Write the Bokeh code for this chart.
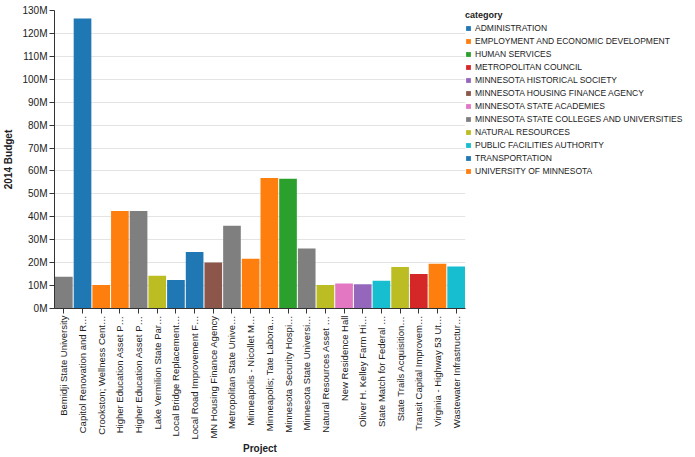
from bokeh.plotting import figure
from bokeh.models import ColumnDataSource, Range1d, Legend, LegendItem, FixedTicker
from bokeh.embed import file_html
from bokeh.resources import INLINE
import math

projects = [
    "Bemidji State University",
    "Capitol Renovation and R…",
    "Crookston; Wellness Cent…",
    "Higher Education Asset P…",
    "Higher Education Asset P…",
    "Lake Vermilion State Par…",
    "Local Bridge Replacement…",
    "Local Road Improvement F…",
    "MN Housing Finance Agency",
    "Metropolitan State Unive…",
    "Minneapolis - Nicollet M…",
    "Minneapolis; Tate Labora…",
    "Minnesota Security Hospi…",
    "Minnesota State Universi…",
    "Natural Resources Asset …",
    "New Residence Hall",
    "Oliver H. Kelley Farm Hi…",
    "State Match for Federal …",
    "State Trails Acquisition…",
    "Transit Capital Improvem…",
    "Virginia - Highway 53 Ut…",
    "Wastewater Infrastructur…",
]
budget_m = [13.8, 126.5, 10.2, 42.5, 42.5, 14.3, 12.4, 24.6, 20.1, 36.1, 21.7,
            56.9, 56.6, 26.2, 10.2, 10.9, 10.6, 12.1, 18.1, 15.0, 19.5, 18.3]
project_category = [
    "MINNESOTA STATE COLLEGES AND UNIVERSITIES",
    "ADMINISTRATION",
    "UNIVERSITY OF MINNESOTA",
    "UNIVERSITY OF MINNESOTA",
    "MINNESOTA STATE COLLEGES AND UNIVERSITIES",
    "NATURAL RESOURCES",
    "TRANSPORTATION",
    "TRANSPORTATION",
    "MINNESOTA HOUSING FINANCE AGENCY",
    "MINNESOTA STATE COLLEGES AND UNIVERSITIES",
    "EMPLOYMENT AND ECONOMIC DEVELOPMENT",
    "UNIVERSITY OF MINNESOTA",
    "HUMAN SERVICES",
    "MINNESOTA STATE COLLEGES AND UNIVERSITIES",
    "NATURAL RESOURCES",
    "MINNESOTA STATE ACADEMIES",
    "MINNESOTA HISTORICAL SOCIETY",
    "PUBLIC FACILITIES AUTHORITY",
    "NATURAL RESOURCES",
    "METROPOLITAN COUNCIL",
    "EMPLOYMENT AND ECONOMIC DEVELOPMENT",
    "PUBLIC FACILITIES AUTHORITY",
]
categories = [
    "ADMINISTRATION",
    "EMPLOYMENT AND ECONOMIC DEVELOPMENT",
    "HUMAN SERVICES",
    "METROPOLITAN COUNCIL",
    "MINNESOTA HISTORICAL SOCIETY",
    "MINNESOTA HOUSING FINANCE AGENCY",
    "MINNESOTA STATE ACADEMIES",
    "MINNESOTA STATE COLLEGES AND UNIVERSITIES",
    "NATURAL RESOURCES",
    "PUBLIC FACILITIES AUTHORITY",
    "TRANSPORTATION",
    "UNIVERSITY OF MINNESOTA",
]
palette = ["#1f77b4", "#ff7f0e", "#2ca02c", "#d62728", "#9467bd", "#8c564b",
           "#e377c2", "#7f7f7f", "#bcbd22", "#17becf", "#1f77b4", "#ff7f0e"]
y_ticks = [i * 10_000_000 for i in range(14)]

FONT = "Liberation Sans"
positions = list(range(len(projects)))

p = figure(frame_width=411, frame_height=298, output_backend="svg",
           toolbar_location=None,
           x_range=Range1d(-0.5, len(projects) - 0.5),
           y_range=Range1d(0, 130_000_000),
           min_border_left=44, min_border_top=10, min_border_bottom=2,
           min_border_right=4)
p.outline_line_color = None

items = []
for cat, col in zip(categories, palette):
    idx = [i for i, c in enumerate(project_category) if c == cat]
    src = ColumnDataSource(dict(
        pos=[positions[i] for i in idx],
        budget=[budget_m[i] * 1_000_000 for i in idx],
    ))
    r = p.vbar(x="pos", top="budget", width=0.945, source=src,
               fill_color=col, line_color=None)
    items.append(LegendItem(label=cat, renderers=[r]))

legend = Legend(items=items, title="category", location="top_left",
                orientation="vertical")
legend.title_text_font = FONT
legend.title_text_font_style = "bold"
legend.title_text_font_size = "9px"
legend.title_text_color = "#222"
legend.title_standoff = 2
legend.label_text_font = FONT
legend.label_text_font_size = "8.5px"
legend.label_text_color = "#222"
legend.glyph_width = 6
legend.glyph_height = 6
legend.label_height = 11
legend.label_standoff = 4
legend.spacing = 2
legend.padding = 0
legend.margin = 0
legend.border_line_color = None
legend.background_fill_alpha = 0
p.add_layout(legend, "right")

# y axis
yax = p.yaxis[0]
yax.ticker = FixedTicker(ticks=y_ticks)
yax.major_label_overrides = {t: f"{t // 1_000_000}M" for t in y_ticks}
yax.axis_label = "2014 Budget"
yax.axis_label_text_font = FONT
yax.axis_label_text_font_style = "bold"
yax.axis_label_text_font_size = "10px"
yax.axis_label_text_color = "#222"
yax.major_label_text_font = FONT
yax.major_label_text_font_size = "10px"
yax.major_label_text_color = "#222"
yax.axis_line_color = "#333"
yax.major_tick_line_color = "#333"
yax.major_tick_out = 5
yax.major_tick_in = 0
yax.minor_tick_line_color = None
yax.major_label_standoff = 2

# x axis
xax = p.xaxis[0]
xax.ticker = FixedTicker(ticks=positions)
xax.major_label_overrides = {i: lb for i, lb in zip(positions, projects)}
xax.major_label_orientation = math.pi / 2
xax.axis_label = "Project"
xax.axis_label_text_font = FONT
xax.axis_label_text_font_style = "bold"
xax.axis_label_text_font_size = "10px"
xax.axis_label_text_color = "#222"
xax.major_label_text_font = FONT
xax.major_label_text_font_size = "9.5px"
xax.major_label_text_color = "#222"
xax.axis_line_color = "#333"
xax.major_tick_line_color = "#333"
xax.major_tick_out = 5
xax.major_tick_in = 0
xax.minor_tick_line_color = None
xax.major_label_standoff = 2
xax.axis_label_standoff = 0

p.xgrid.grid_line_color = None
p.ygrid.grid_line_color = "#e4e4e4"
p.ygrid.ticker = FixedTicker(ticks=y_ticks)

open("out.html", "w").write(file_html(p, INLINE))
